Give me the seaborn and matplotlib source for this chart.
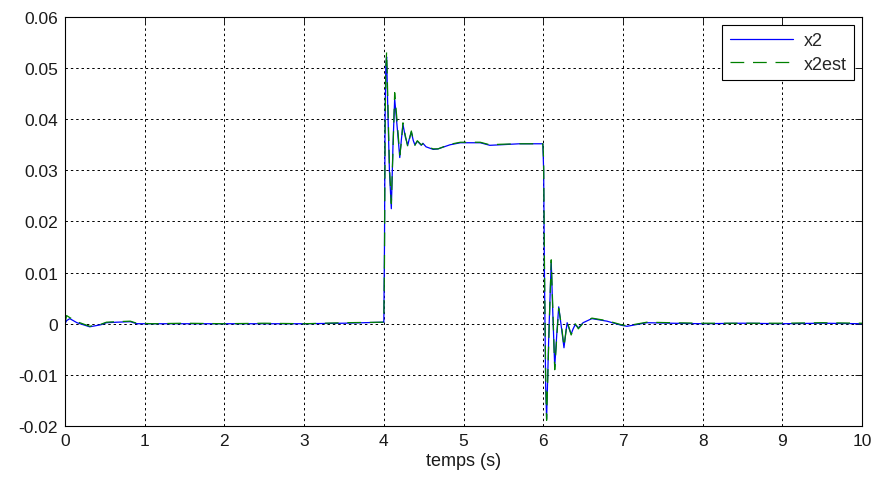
import numpy as np
import pandas as pd
import seaborn as sns
import matplotlib.pyplot as plt
from matplotlib.ticker import FixedLocator, FixedFormatter

# Time samples (s)
t = [0.00, 0.02, 0.06, 0.15, 0.31, 0.45, 0.52, 0.65, 0.82, 0.90, 1.10, 1.50, 2.00,
     2.50, 3.00, 3.50, 3.995,
     4.000, 4.008, 4.016, 4.025, 4.035, 4.05, 4.07, 4.094, 4.115, 4.136, 4.17, 4.20,
     4.22, 4.24, 4.27, 4.30, 4.32, 4.345, 4.37, 4.39, 4.42, 4.47, 4.49, 4.53, 4.62,
     4.68, 4.83, 4.96, 5.21, 5.33, 5.46, 5.70, 5.995,
     6.005, 6.015, 6.03, 6.042, 6.07, 6.10, 6.12, 6.144, 6.17, 6.194, 6.23, 6.26,
     6.28, 6.30, 6.325, 6.35, 6.375, 6.40, 6.42, 6.44, 6.50, 6.61, 6.80, 6.98,
     7.05, 7.30, 7.60, 8.00, 8.50, 9.00, 9.50, 10.00]

# Measured state x2
x2 = [0.0000, 0.0006, 0.0010, 0.0002, -0.0006, -0.0002, 0.0002, 0.0003, 0.0004, 0.0000,
      0.0000, 0.0000, 0.0000, 0.0000, 0.0000, 0.0001, 0.0003,
      0.0003, 0.0150, 0.0400, 0.0505, 0.0522, 0.0420, 0.0300, 0.0225, 0.0350, 0.0440,
      0.0380, 0.0325, 0.0360, 0.0390, 0.0365, 0.0349, 0.0362, 0.0375, 0.0358, 0.0350,
      0.0357, 0.0349, 0.0353, 0.0346, 0.0341, 0.0342, 0.0350, 0.0354, 0.0354, 0.0349,
      0.0350, 0.0352, 0.0352,
      0.0300, 0.0100, -0.0120, -0.0186, -0.0020, 0.0121, 0.0020, -0.0084, -0.0020,
      0.0033, -0.0010, -0.0047, -0.0020, 0.0002, -0.0010, -0.0020, -0.0010, -0.0002,
      -0.0005, -0.0008, 0.0002, 0.0010, 0.0005, -0.0003, -0.0005, 0.0002, 0.0001,
      0.0000, 0.0001, 0.0000, 0.0001, 0.0000]

# Observer estimate x2est
x2est = [0.0000, 0.0016, 0.0012, 0.0004, -0.0005, -0.0001, 0.0003, 0.0004, 0.0005, 0.0001,
         0.0000, 0.0001, 0.0000, 0.0001, 0.0000, 0.0002, 0.0003,
         0.0003, 0.0120, 0.0380, 0.0500, 0.0532, 0.0440, 0.0310, 0.0235, 0.0340, 0.0452,
         0.0390, 0.0330, 0.0355, 0.0393, 0.0368, 0.0346, 0.0360, 0.0377, 0.0360, 0.0349,
         0.0358, 0.0350, 0.0352, 0.0347, 0.0342, 0.0342, 0.0351, 0.0355, 0.0355, 0.0350,
         0.0351, 0.0352, 0.0352,
         0.0320, 0.0120, -0.0100, -0.0189, -0.0030, 0.0125, 0.0030, -0.0090, -0.0025,
         0.0030, -0.0005, -0.0045, -0.0022, 0.0003, -0.0008, -0.0022, -0.0012, 0.0000,
         -0.0004, -0.0010, 0.0001, 0.0011, 0.0006, -0.0002, -0.0004, 0.0003, 0.0002,
         0.0001, 0.0001, 0.0001, 0.0002, 0.0001]

x_ticks = [0, 1, 2, 3, 4, 5, 6, 7, 8, 9, 10]
x_labels = ["0", "1", "2", "3", "4", "5", "6", "7", "8", "9", "10"]
y_ticks = [-0.02, -0.01, 0.0, 0.01, 0.02, 0.03, 0.04, 0.05, 0.06]
y_labels = ["-0.02", "-0.01", "0", "0.01", "0.02", "0.03", "0.04", "0.05", "0.06"]

df = pd.DataFrame({"t": t, "x2": x2, "x2est": x2est})

sns.set_theme(style="white")
plt.rcParams["font.family"] = ["Liberation Sans", "DejaVu Sans"]

fig = plt.figure(figsize=(8.77, 4.81), dpi=100)
ax = fig.add_axes([0.0741, 0.1123, 0.9089, 0.8503])

sns.lineplot(data=df, x="t", y="x2", ax=ax, color=(0, 0, 1), linewidth=0.9,
             estimator=None, sort=False, label="x2")
sns.lineplot(data=df, x="t", y="x2est", ax=ax, color=(0, 0.5, 0), linewidth=0.9,
             linestyle=(0, (11, 7)), estimator=None, sort=False, label="x2est")

ax.set_xlim(0, 10)
ax.set_ylim(-0.02, 0.06)
ax.xaxis.set_major_locator(FixedLocator(x_ticks))
ax.xaxis.set_major_formatter(FixedFormatter(x_labels))
ax.yaxis.set_major_locator(FixedLocator(y_ticks))
ax.yaxis.set_major_formatter(FixedFormatter(y_labels))

ax.grid(True, color="black", linestyle=(0, (2.5, 3)), linewidth=0.7)
ax.tick_params(direction="in", top=True, right=True, length=5, width=0.7,
               labelsize=12.5, colors="#1a1a1a", pad=5)
for sp in ax.spines.values():
    sp.set_visible(True)
    sp.set_color("black")
    sp.set_linewidth(0.8)

ax.set_xlabel("temps (s)", fontsize=13, color="#1a1a1a", labelpad=3)
ax.set_ylabel("")

leg = ax.legend(loc="upper right", fontsize=13, frameon=True, fancybox=False,
                edgecolor="black", framealpha=1, handlelength=3.5,
                borderaxespad=0.45, borderpad=0.4, labelspacing=0.35,
                handletextpad=0.6)
leg.get_frame().set_linewidth(0.8)

fig.savefig("out.png", dpi=100)
